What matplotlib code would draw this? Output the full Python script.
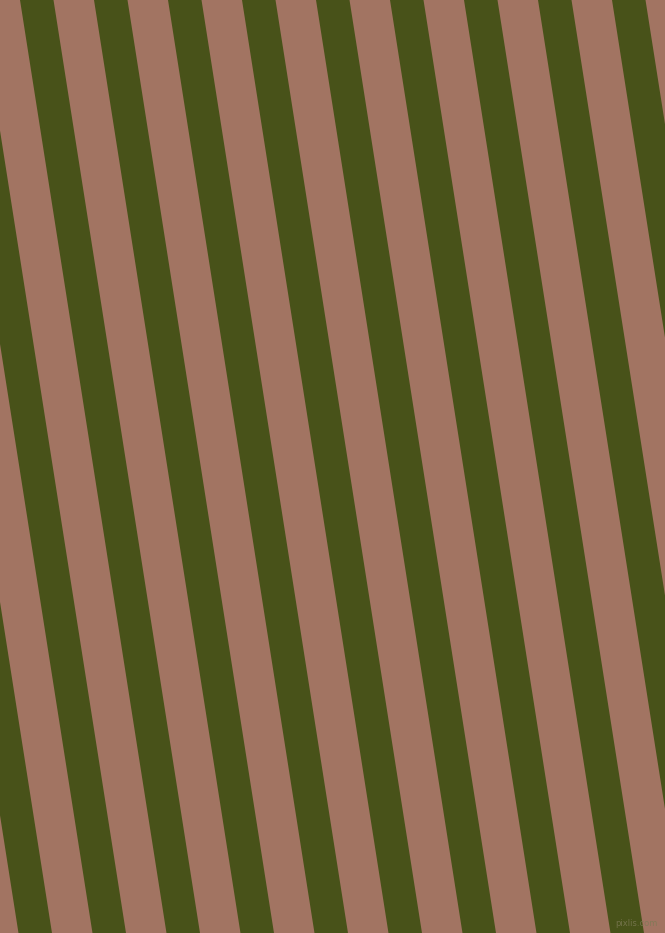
import matplotlib
matplotlib.use('Agg')
import matplotlib.pyplot as plt

# Stripe pattern (pixels)
width_px, height_px = 665, 933
green_left_top = [-128, -54, 20, 94, 168, 242, 316, 390, 464, 538, 612]
green_width = 33.5
slope = 0.157          # horizontal shift per pixel down
pink = '#a27462'
green = '#485219'

fig = plt.figure(figsize=(width_px / 100, height_px / 100), dpi=100)
ax = fig.add_axes([0, 0, 1, 1])
ax.set_xlim(0, width_px)
ax.set_ylim(height_px, 0)
ax.axis('off')
fig.patch.set_facecolor(pink)
ax.set_facecolor(pink)

shift = slope * height_px
for x0 in green_left_top:
    xs = [x0, x0 + green_width, x0 + green_width + shift, x0 + shift]
    ys = [0, 0, height_px, height_px]
    ax.fill(xs, ys, color=green, lw=0, antialiased=True)

# small watermark bottom right
ax.text(636, 923, 'pixlis.com', fontsize=6, color='#7d7a55', alpha=0.8,
        ha='center', va='center')

fig.savefig('out.png', dpi=100, facecolor=pink)
